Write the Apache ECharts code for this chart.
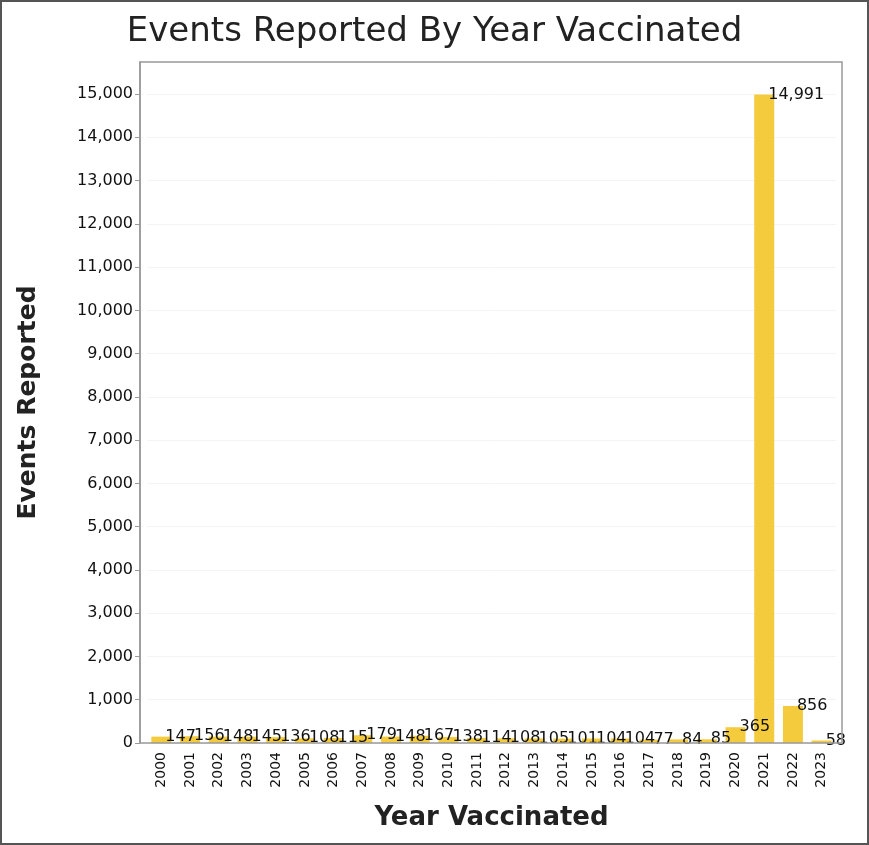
<!DOCTYPE html>
<html>
<head>
<meta charset="utf-8">
<script src="https://cdn.jsdelivr.net/npm/echarts@6/dist/echarts.min.js"></script>
<style>
  html, body { margin: 0; padding: 0; background: #ffffff; }
  #chart { width: 869px; height: 845px; }
</style>
</head>
<body>
<div id="chart"></div>
<script>
// Reported events per vaccination year
const years = ['2000', '2001', '2002', '2003', '2004', '2005', '2006', '2007',
  '2008', '2009', '2010', '2011', '2012', '2013', '2014', '2015', '2016',
  '2017', '2018', '2019', '2020', '2021', '2022', '2023'];
const eventsReported = [147, 156, 148, 145, 136, 108, 115, 179, 148, 167, 138,
  114, 108, 105, 101, 104, 104, 77, 84, 85, 365, 14991, 856, 58];
const yTicks = { min: 0, max: 15740, step: 1000 };

const fmt = v => Number(v).toLocaleString('en-US');
const FONT = 'DejaVu Sans';

const chart = echarts.init(document.getElementById('chart'), null, { renderer: 'canvas' });
chart.setOption({
  backgroundColor: '#ffffff',
  animation: false,
  title: {
    text: 'Events Reported By Year Vaccinated',
    left: 'center',
    top: 10,
    textStyle: { fontFamily: FONT, fontSize: 34, fontWeight: 'normal', color: '#222' }
  },
  grid: { left: 147, right: 33, top: 62, bottom: 102, containLabel: false },
  xAxis: {
    type: 'category',
    data: years,
    name: 'Year Vaccinated',
    nameLocation: 'middle',
    nameGap: 62,
    nameTextStyle: { fontFamily: FONT, fontSize: 26, fontWeight: 'bold', color: '#222' },
    axisLine: { show: false },
    axisTick: { show: false },
    axisLabel: { rotate: 90, margin: 9, fontFamily: FONT, fontSize: 14, color: '#111' }
  },
  yAxis: {
    type: 'value',
    min: yTicks.min,
    max: yTicks.max,
    interval: yTicks.step,
    offset: 7,
    name: 'Events Reported',
    nameLocation: 'middle',
    nameGap: 99,
    nameTextStyle: { fontFamily: FONT, fontSize: 25, fontWeight: 'bold', color: '#222' },
    axisLine: { show: true, lineStyle: { color: '#999', width: 1.5 } },
    axisTick: { show: true, length: 5, lineStyle: { color: '#999' } },
    axisLabel: {
      margin: 7, fontFamily: FONT, fontSize: 16, color: '#111',
      showMaxLabel: false,
      formatter: v => (v % yTicks.step === 0 ? fmt(v) : '')
    },
    splitLine: { show: true, lineStyle: { color: '#f4f4f4', width: 1 } }
  },
  series: [{
    type: 'bar',
    data: eventsReported,
    barWidth: 20,
    itemStyle: { color: '#F5CB3E' },
    label: {
      show: true,
      position: ['50%', 0],
      offset: [4, 0],
      align: 'left',
      verticalAlign: 'middle',
      fontFamily: FONT,
      fontSize: 16,
      color: '#111',
      formatter: p => fmt(p.value)
    }
  }],
  graphic: [
    {
      // plot frame
      type: 'rect',
      shape: { x: 140, y: 62, width: 702, height: 681 },
      style: { fill: 'none', stroke: '#999', lineWidth: 1.5 },
      z: 100
    },
    {
      // outer border
      type: 'rect',
      shape: { x: 1, y: 1, width: 867, height: 843 },
      style: { fill: 'none', stroke: '#555', lineWidth: 2 },
      z: 100
    }
  ]
});
</script>
</body>
</html>
